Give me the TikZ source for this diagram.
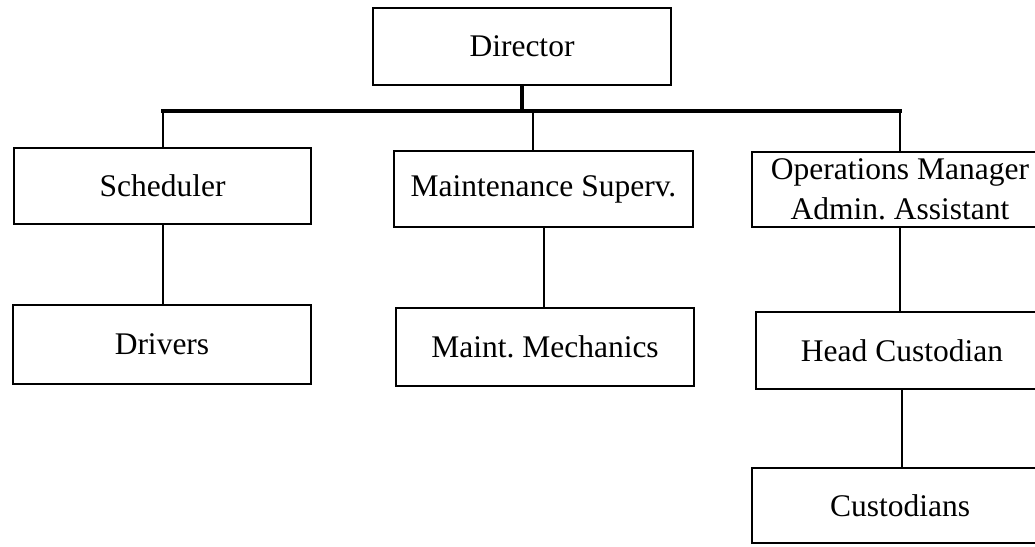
\documentclass[tikz,border=0pt]{standalone}
\usepackage{fontspec}
\setmainfont{Liberation Serif}
\frenchspacing
\begin{document}
\begin{tikzpicture}[x=1pt,y=-1pt,
  box/.style={draw, line width=2.4pt, rectangle, inner sep=0pt, align=center,
    font=\fontsize{31.5}{40}\selectfont},
  conn/.style={line width=2pt},
  heavy/.style={line width=4.2pt}]
\clip (0,0) rectangle (1035,546);
\fill[white] (0,0) rectangle (1035,546);
\node[box, minimum width=298pt, minimum height=77pt] (dir) at (522,46.5) {Director};
\node[box, minimum width=297pt, minimum height=76pt] (sch) at (162.5,186) {Scheduler};
\node[box, minimum width=299pt, minimum height=76pt] (msup) at (543.5,189) {Maintenance Superv.};
\node[box, minimum width=296pt, minimum height=75pt] (ops) at (900,189.5) {Operations Manager\\Admin. Assistant};
\node[box, minimum width=298pt, minimum height=79pt] (drv) at (162,344.5) {Drivers};
\node[box, minimum width=298pt, minimum height=78pt] (mech) at (545,347) {Maint. Mechanics};
\node[box, minimum width=292pt, minimum height=77pt] (head) at (902,350.5) {Head Custodian};
\node[box, minimum width=296pt, minimum height=75pt] (cust) at (900,505.5) {Custodians};
\coordinate (barL) at (163,111);
\coordinate (barM) at (533,111);
\coordinate (barR) at (900,111);
\draw[heavy] (dir.south) -- (dir.south |- barL);
\draw[heavy, line cap=rect] (barL) -- (barR);
\draw[conn] (barL) -- (barL |- sch.north);
\draw[conn] (barM) -- (barM |- msup.north);
\draw[conn] (barR) -- (barR |- ops.north);
\draw[conn] (sch.south) -- (sch.south |- drv.north);
\draw[conn] (msup.south) -- (msup.south |- mech.north);
\draw[conn] (ops.south) -- (ops.south |- head.north);
\draw[conn] (head.south) -- (head.south |- cust.north);
\end{tikzpicture}
\end{document}
